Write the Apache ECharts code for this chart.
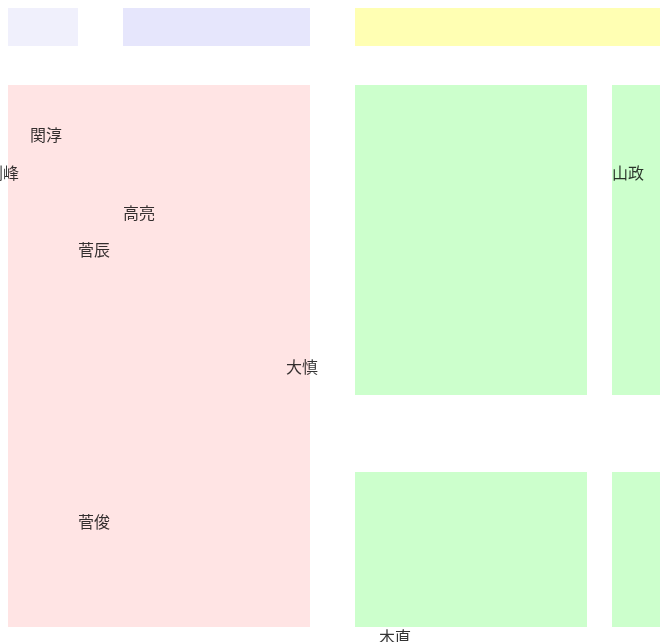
<!DOCTYPE html>
<html>
<head>
<meta charset="utf-8">
<script src="https://cdn.jsdelivr.net/npm/echarts@6/dist/echarts.min.js"></script>
<style>
html,body{margin:0;padding:0;background:#fff;}
#chart{width:662px;height:642px;}
</style>
</head>
<body>
<div id="chart"></div>
<script>
// People (labels) and their positions in chart units
const names = ['関淳', '剛峰', '高亮', '菅辰', '大慎', '菅俊', '山政', '木直'];
const xs = [46, 3, 139, 94, 302, 94, 628, 395];
const ys = [135, 173, 213, 250, 367, 522, 173, 637];

// Background areas
const areaX0 = [8, 123, 355, 8, 355, 612, 355, 612];
const areaX1 = [78, 310, 660, 310, 587, 660, 587, 660];
const areaY0 = [8, 8, 8, 85, 85, 85, 472, 472];
const areaY1 = [46, 46, 46, 627, 395, 395, 627, 627];
const areaColors = ['#F0F0FC', '#E6E6FC', '#FFFFB3', '#FFE4E4', '#CCFFCC', '#CCFFCC', '#CCFFCC', '#CCFFCC'];

const chart = echarts.init(document.getElementById('chart'), null, {renderer: 'canvas'});

const areas = areaX0.map((x0, i) => [
  {xAxis: x0, yAxis: areaY0[i], itemStyle: {color: areaColors[i], opacity: 1, borderWidth: 0}},
  {xAxis: areaX1[i], yAxis: areaY1[i]}
]);

chart.setOption({
  animation: false,
  backgroundColor: '#ffffff',
  grid: {left: 0, right: 0, top: 0, bottom: 0, containLabel: false},
  xAxis: {type: 'value', min: 0, max: 662, show: false, splitLine: {show: false}},
  yAxis: {type: 'value', min: 0, max: 642, inverse: true, show: false, splitLine: {show: false}},
  series: [
    {
      type: 'scatter',
      z: 1,
      data: [],
      silent: true,
      markArea: {
        silent: true,
        label: {show: false},
        data: areas
      }
    },
    {
      type: 'scatter',
      z: 5,
      symbolSize: 0,
      clip: false,
      itemStyle: {color: 'rgba(0,0,0,0)'},
      data: names.map((n, i) => ({name: n, value: [xs[i], ys[i]]})),
      label: {
        show: true,
        position: 'inside',
        formatter: '{b}',
        color: '#000000',
        textBorderWidth: 0,
        textBorderColor: 'transparent',
        fontSize: 16,
        fontFamily: '"Noto Sans CJK JP", "Noto Sans CJK SC", sans-serif'
      }
    }
  ]
});
</script>
</body>
</html>
